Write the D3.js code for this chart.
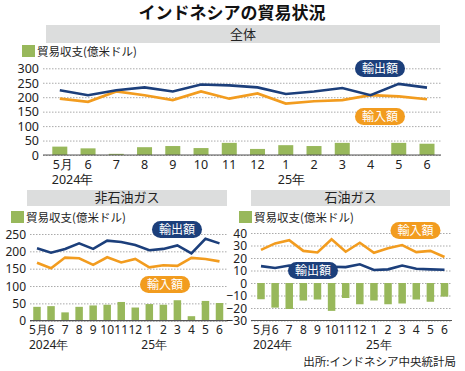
<!DOCTYPE html>
<html>
<head>
<meta charset="utf-8">
<script src="https://cdn.jsdelivr.net/npm/d3@7"></script>
<style>
body{margin:0;background:#fff}
text{font-family:"Noto Sans CJK JP",sans-serif}
.num{font-family:"Liberation Sans Narrow","Noto Sans",sans-serif;font-size:12.5px;fill:#222}
.small .num{font-size:12px}
</style>
</head>
<body>
<svg id="chart" width="465" height="371"></svg>
<script>
// values (億米ドル)
var months = ['5月','6','7','8','9','10','11','12','1','2','3','4','5','6']

var totalExport  = [224,207,224,234,220,244,241,234,211,220,232,207,246,233]
var totalImport  = [195,184,220,207,190,220,195,213,178,186,190,207,203,193]
var totalBalance = [29,23,4,27,31,24,42,21,34,31,42,0.5,42,39]

var nonOilExport  = [209,196,207,223,207,231,227,218,203,207,217,194,236,223]
var nonOilImport  = [167,151,182,180,161,183,168,178,154,160,158,181,178,171]
var nonOilBalance = [40,42,24,40,44,46,54,38,48,46,59,13,57,51]

var oilExport  = [13.5,12,14,13,13,13,12.7,15,10.4,10.9,14,11.4,10.9,10.6]
var oilImport  = [26.5,31.7,34.3,25.7,24.4,35,25,32.2,24.2,27.8,30.4,24.7,25.7,20.8]
var oilBalance = [-13,-19.7,-20.8,-14,-13.2,-22.3,-12,-17,-14,-17,-16.4,-13.2,-15,-10.9]

var totalTicks = [0,50,100,150,200,250,300]
var nonOilTicks = [0,50,100,150,200,250]
var oilTicks = [-30,-20,-10,0,10,20,30,40]

var navy = '#1c3f7b', orange = '#f29c1f', green = '#98b85b', band = '#dcdddd'

var svg = d3.select('#chart')

svg.append('text').attr('x', 232).attr('y', 19)
  .attr('text-anchor', 'middle')
  .style('font-size', '17px').style('font-weight', 'bold').attr('fill', '#111')
  .text('インドネシアの貿易状況')

svg.append('text').attr('x', 456).attr('y', 366)
  .attr('text-anchor', 'end')
  .style('font-size', '11.5px').attr('fill', '#222')
  .text('出所:インドネシア中央統計局')

function pill(g, cx, cy, w, color, label){
  g.append('rect').attr('x', cx - w/2).attr('y', cy - 8.5)
    .attr('width', w).attr('height', 17).attr('rx', 8.5).attr('fill', color)
  g.append('text').attr('x', cx).attr('y', cy + 4.2)
    .attr('text-anchor', 'middle').attr('fill', '#fff')
    .style('font-size', '12px').text(label)
}

function drawPanel(p){
  var g = svg.append('g').attr('class', p.cls || '')

  // header band
  g.append('rect').attr('x', p.band[0]).attr('y', p.band[1])
    .attr('width', p.band[2] - p.band[0]).attr('height', p.band[3] - p.band[1])
    .attr('fill', band)
  g.append('text').attr('x', (p.band[0] + p.band[2]) / 2).attr('y', p.band[3] - 4)
    .attr('text-anchor', 'middle').style('font-size', '13px').attr('fill', '#222')
    .text(p.title)

  // legend
  g.append('rect').attr('x', p.legend[0]).attr('y', p.legend[1])
    .attr('width', 13).attr('height', 12).attr('fill', green)
  g.append('text').attr('x', p.legend[0] + 15).attr('y', p.legend[1] + 10.5)
    .style('font-size', '11.5px').attr('fill', '#222')
    .text('貿易収支(億米ドル)')

  var x = d3.scalePoint().domain(d3.range(months.length)).range(p.xr)
  var y = d3.scaleLinear().domain(d3.extent(p.ticks)).range(p.yr)

  // grid
  var yAxis = d3.axisLeft(y).tickValues(p.ticks).tickSize(-(p.gx[1] - p.gx[0])).tickPadding(4)
  var ax = g.append('g').attr('transform', 'translate(' + p.gx[0] + ',0)').call(yAxis)
  ax.select('.domain').remove()
  ax.selectAll('line').attr('stroke', '#aaa').attr('stroke-dasharray', '1.5,1.5')
  ax.selectAll('text').attr('class', 'num').attr('dy', '0.34em')

  // bars
  g.selectAll('rect.bar').data(p.balance).join('rect').attr('class', 'bar')
    .attr('x', (d, i) => x(i) - p.bw / 2)
    .attr('width', p.bw)
    .attr('y', d => Math.min(y(d), y(0)))
    .attr('height', d => Math.abs(y(d) - y(0)))
    .attr('fill', green)

  // baseline axis (solid)
  g.append('line').attr('x1', p.gx[0]).attr('x2', p.gx[1])
    .attr('y1', p.yr[0]).attr('y2', p.yr[0])
    .attr('stroke', '#555').attr('stroke-width', 1.2)

  var line = d3.line().x((d, i) => x(i)).y(d => y(d))
  g.append('path').datum(p.imp).attr('d', line)
    .attr('fill', 'none').attr('stroke', orange).attr('stroke-width', 2.6)
  g.append('path').datum(p.exp).attr('d', line)
    .attr('fill', 'none').attr('stroke', navy).attr('stroke-width', 2.6)

  // month labels
  g.selectAll('text.m').data(months).join('text').attr('class', 'num m')
    .attr('x', (d, i) => x(i) + (i === 0 ? p.firstShift : 0))
    .attr('y', p.labelY)
    .attr('text-anchor', 'middle')
    .text(d => d)
  g.append('text').attr('class', 'num').attr('x', x(0) - 8).attr('y', p.labelY + 15)
    .text('2024年')
  g.append('text').attr('class', 'num').attr('x', x(8) - 8).attr('y', p.labelY + 15)
    .text('25年')

  pill(g, p.expPill[0], p.expPill[1], 50, navy, '輸出額')
  pill(g, p.impPill[0], p.impPill[1], 50, orange, '輸入額')
}

drawPanel({
  title: '全体', band: [46, 25, 440, 43], legend: [22, 45],
  xr: [59.8, 427], yr: [155, 68.3], gx: [43, 441], ticks: totalTicks, bw: 15,
  exp: totalExport, imp: totalImport, balance: totalBalance, firstShift: 3,
  labelY: 168.5, expPill: [380, 68.5], impPill: [380, 116.5]
})

drawPanel({
  cls: 'small',
  title: '非石油ガス', band: [27, 190, 227, 206], legend: [11, 211],
  xr: [37, 219.5], yr: [320.7, 234], gx: [30, 228], ticks: nonOilTicks, bw: 7.5,
  exp: nonOilExport, imp: nonOilImport, balance: nonOilBalance, firstShift: 1.5,
  labelY: 334, expPill: [177, 229.5], impPill: [165, 284.5]
})

drawPanel({
  cls: 'small',
  title: '石油ガス', band: [251, 190, 450, 206], legend: [239, 211],
  xr: [261, 444.5], yr: [320.5, 233], gx: [251, 452], ticks: oilTicks, bw: 7.5,
  exp: oilExport, imp: oilImport, balance: oilBalance, firstShift: 1.5,
  labelY: 334, expPill: [313, 270.5], impPill: [415.5, 230.5]
})
</script>
</body>
</html>
